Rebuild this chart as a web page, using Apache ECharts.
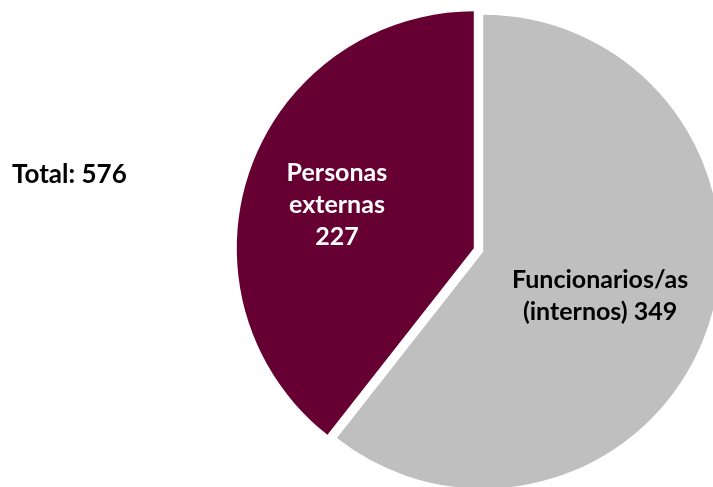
<!DOCTYPE html>
<html>
<head>
<meta charset="utf-8">
<script src="https://cdn.jsdelivr.net/npm/echarts@6/dist/echarts.min.js"></script>
<style>
  html, body { margin: 0; padding: 0; background: #ffffff; }
  #chart { width: 713px; height: 487px; }
</style>
</head>
<body>
<div id="chart"></div>
<script>
// Staff vs. external people
const categories = ['Funcionarios/as\n(internos)', 'Personas\nexternas'];
const values = [349, 227];
const valueSeparators = [' ', '\n'];
const sliceColors = ['#BFBFBF', '#660033'];
const labelColors = ['#000000', '#FFFFFF'];

const total = values.reduce((a, b) => a + b, 0);

const chart = echarts.init(document.getElementById('chart'), null, { renderer: 'canvas' });

const fontFamily = 'Lato, "Open Sans", sans-serif';

chart.setOption({
  animation: false,
  backgroundColor: '#ffffff',
  graphic: [{
    type: 'text',
    left: 12,
    top: 162,
    style: {
      text: 'Total: ' + total,
      font: 'bold 26px ' + fontFamily,
      fill: '#000000'
    }
  }],
  series: [{
    type: 'pie',
    center: [478.5, 250],
    radius: 237,
    startAngle: 90,
    clockwise: true,
    selectedMode: 'multiple',
    selectedOffset: 5,
    emphasis: { disabled: true },
    label: {
      show: true,
      position: 'inside',
      fontFamily: fontFamily,
      fontWeight: 'bold',
      fontSize: 25,
      lineHeight: 32,
      align: 'center'
    },
    labelLine: { show: false },
    labelLayout: function (params) {
      return params.dataIndex === 0 ? { dx: 2, dy: 5 } : { dx: -22, dy: -4 };
    },
    data: categories.map((name, i) => ({
      name: name,
      value: values[i],
      selected: true,
      itemStyle: { color: sliceColors[i], borderWidth: 0 },
      label: {
        color: labelColors[i],
        formatter: (p) => p.name + valueSeparators[i] + p.value
      }
    }))
  }]
});
</script>
</body>
</html>
